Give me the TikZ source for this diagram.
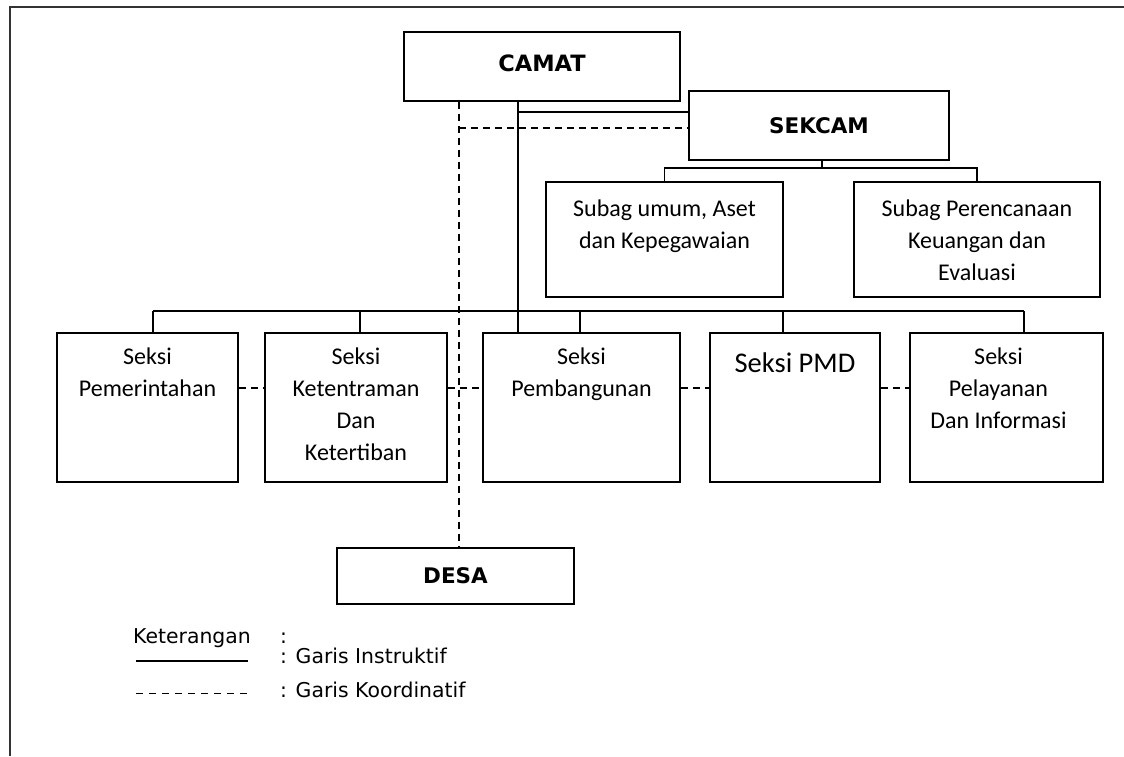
\documentclass[tikz,border=0pt]{standalone}
\usepackage{fontspec}
\setmainfont{Carlito}
\newfontfamily\legendfont{DejaVu Sans}
\usepackage{tikz}
\usetikzlibrary{positioning,calc}
\tikzset{
  orgbox/.style={draw=black,line width=1.9pt,minimum height=149pt,inner sep=0pt},
  orgtext/.style={anchor=north,inner sep=0pt,align=center,font=\fontsize{24}{31.7}\selectfont},
  orghead/.style={font=\legendfont\bfseries\fontsize{21.5}{26}\selectfont},
  orginstr/.style={draw=black,line width=1.8pt},
  orgkoord/.style={draw=black,line width=1.8pt,dash pattern=on 7pt off 5pt},
  orglegend/.style={anchor=base west,inner sep=0pt,font=\legendfont\fontsize{20.4}{25}\selectfont}
}

\begin{document}
\begin{tikzpicture}[x=1pt,y=-1pt]
\useasboundingbox (0,0) rectangle (1124,756);
\draw[line width=2.6pt,black!80] (10,756) -- (10,7) -- (1124,7);
% pimpinan
\node[orgbox,orghead,font=\legendfont\bfseries\fontsize{22.5}{26}\selectfont,text height=16pt,text depth=6pt,minimum width=276pt,minimum height=69pt] (camat) at (542,66.5) {CAMAT};
\node[orgbox,orghead,minimum width=260pt,minimum height=69pt] (sekcam) at (819,125.5) {SEKCAM};
\node[orgbox,orghead,minimum width=237pt,minimum height=56pt] (desa) at (455.5,576) {DESA};
% subag
\node[orgbox,minimum width=237pt,minimum height=115pt] (subumum) at (664.5,239.5) {};
\node[orgtext] (subumumtx) at ([yshift=-19pt]subumum.north) {Subag umum, Aset\\dan Kepegawaian};
\node[orgbox,minimum width=246pt,minimum height=115pt] (subren) at (977,239.5) {};
\node[orgtext] (subrentx) at ([yshift=-19pt]subren.north) {Subag Perencanaan\\Keuangan dan\\Evaluasi};
% seksi
\node[orgbox,minimum width=181pt] (pem) at (147.5,407.5) {};
\node[orgbox,minimum width=182pt] (tib) at (356,407.5) {};
\node[orgbox,minimum width=197pt] (bang) at (581.5,407.5) {};
\node[orgbox,minimum width=170pt] (pmd) at (795,407.5) {};
\node[orgbox,minimum width=193pt] (yan) at (1006.5,407.5) {};
\node[orgtext] (pemtx) at ([yshift=-16pt]pem.north) {Seksi\\Pemerintahan};
\node[orgtext] (tibtx) at ([yshift=-16pt]tib.north) {Seksi\\Ketentraman\\Dan\\Ketertiban};
\node[orgtext] (bangtx) at ([yshift=-16pt]bang.north) {Seksi\\Pembangunan};
\node[orgtext,font=\fontsize{28.5}{34}\selectfont] (pmdtx) at ([yshift=-20pt]pmd.north) {Seksi PMD};
\node[orgtext] (yantx) at ([xshift=-8pt,yshift=-16pt]yan.north) {Seksi\\Pelayanan\\Dan Informasi};
% garis instruktif
\coordinate (trunk) at (518,112);
\coordinate (subbus) at (822,168);
\coordinate (seksibus) at (0,311);
\draw[orginstr] (camat.south -| trunk) -- (bang.north -| trunk);
\draw[orginstr] (trunk) -- (trunk -| sekcam.west);
\draw[orginstr,line width=1.3pt] (sekcam.south -| subbus) -- (subbus);
\draw[orginstr,line width=1.3pt] (subumum.north) |- (subbus) -| (subren.north);
\draw[orginstr,line width=1.6pt] ($(pem.north |- seksibus)+(5.5,0)$) -- ($(yan.north |- seksibus)+(17.5,0)$);
\foreach \n/\dx in {pem/5.5,tib/4,bang/-1.5,pmd/-12,yan/17.5}
  \draw[orginstr,line width=1.6pt] ($(\n.north)+(\dx,0)$) -- ($(\n.north |- seksibus)+(\dx,0)$);
% garis koordinatif
\coordinate (koordx) at (459,128);
\draw[orgkoord] (camat.south -| koordx) -- (desa.north -| koordx);
\draw[orgkoord] (koordx) -- (koordx -| sekcam.west);
\foreach \a/\b in {pem/tib,tib/bang,bang/pmd,pmd/yan}
  \draw[orgkoord] ($(\a.east)+(0,-19.5)$) -- ($(\b.west)+(0,-19.5)$);
% keterangan
\node[orglegend] (ket) at (133,643) {Keterangan};
\node[orglegend] (ketcolon) at (280,643) {:};
\node[orglegend] (legi) at (280,663) {: Garis Instruktif};
\node[orglegend] (legk) at (280,697) {: Garis Koordinatif};
\draw[line width=1.6pt] (136,661) -- (248,661);
\draw[line width=1pt,dash pattern=on 7pt off 6pt] (136,693) -- (250,693);
\end{tikzpicture}
\end{document}
